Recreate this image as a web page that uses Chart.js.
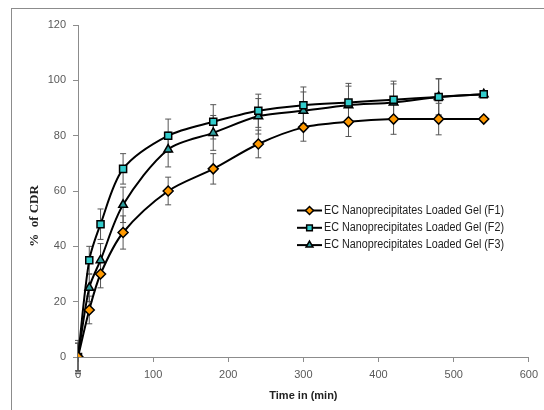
<!DOCTYPE html>
<html>
<head>
<meta charset="utf-8">
<script src="https://cdn.jsdelivr.net/npm/chart.js@4"></script>
<style>
  html, body { margin: 0; padding: 0; background: #fff; }
  #wrap { position: relative; width: 544px; height: 410px; }
  #frame { position: absolute; left: 11px; top: 8px; width: 560px; height: 440px; border: 1px solid #8c8c8c; box-sizing: border-box; pointer-events: none; }
</style>
</head>
<body>
<div id="wrap">
  <canvas id="drugChart" width="544" height="410"></canvas>
  <div id="frame"></div>
</div>
<script>
// time points (min)
const times = [0, 15, 30, 60, 120, 180, 240, 300, 360, 420, 480, 540];

// % cumulative drug release
const f1 = [0, 17, 30, 45, 60, 68, 77, 83, 85, 86, 86, 86];
const f2 = [0, 35, 48, 68, 80, 85, 89, 91, 92, 93, 94, 95];
const f3 = [0, 25, 35, 55, 75, 81, 87, 89, 91, 92, 94, 95];

// error bars (+/-)
const f1Err = [5, 5, 5, 6, 5, 5.5, 5, 5, 5.3, 5.5, 5.7, 0];
const f2Err = [5, 5, 5.5, 5.5, 6, 6.2, 6, 6.6, 6.9, 6.7, 6.6, 0];
const f3Err = [6, 5, 6, 6.4, 6.3, 6.3, 6.4, 6.8, 6.9, 6.7, 6.5, 0];

const labels = [
    'EC Nanoprecipitates Loaded Gel (F1)',
    'EC Nanoprecipitates Loaded Gel (F2)',
    'EC Nanoprecipitates Loaded Gel (F3)'
];
const yTitle = '%  of CDR';

function toPoints(vals) {
    return times.map((t, i) => ({ x: t, y: vals[i] }));
}

// error bars drawn under the lines
const errorBars = {
    id: 'errorBars',
    beforeDatasetsDraw(chart) {
        const ctx = chart.ctx;
        const xs = chart.scales.x, ys = chart.scales.y;
        ctx.save();
        ctx.strokeStyle = '#555';
        ctx.lineWidth = 1;
        chart.data.datasets.forEach(ds => {
            ds.errors.forEach((e, i) => {
                if (!e) return;
                const px = xs.getPixelForValue(ds.data[i].x);
                const top = ys.getPixelForValue(ds.data[i].y + e);
                const bot = ys.getPixelForValue(ds.data[i].y - e);
                ctx.beginPath();
                ctx.moveTo(px, top); ctx.lineTo(px, bot);
                ctx.moveTo(px - 3, top); ctx.lineTo(px + 3, top);
                ctx.moveTo(px - 3, bot); ctx.lineTo(px + 3, bot);
                ctx.stroke();
            });
        });
        ctx.restore();
    }
};

// legend inside the plot + rotated y title
const insideLegend = {
    id: 'insideLegend',
    afterDraw(chart) {
        const ctx = chart.ctx;
        ctx.save();
        ctx.font = '12px "Liberation Sans", Arial, sans-serif';
        ctx.textBaseline = 'middle';
        chart.data.datasets.forEach((ds, i) => {
            const y = 210.5 + i * 17.3;
            ctx.strokeStyle = '#000';
            ctx.lineWidth = 2;
            ctx.beginPath();
            ctx.moveTo(297, y); ctx.lineTo(322, y);
            ctx.stroke();
            ctx.fillStyle = ds.pointBackgroundColor;
            ctx.strokeStyle = '#000';
            ctx.lineWidth = 1.5;
            Chart.helpers.drawPoint(ctx, { pointStyle: ds.pointStyle, radius: 4, borderWidth: 1.5, rotation: 0 }, 309.5, y);
            ctx.fillStyle = '#222';
            ctx.fillText(ds.label, 324, y, 180);
        });

        ctx.translate(35, 216);
        ctx.rotate(-Math.PI / 2);
        ctx.textAlign = 'center';
        ctx.font = 'bold 13px "Liberation Serif", "Times New Roman", serif';
        ctx.fillStyle = '#222';
        ctx.fillText(yTitle, 0, 0);
        ctx.restore();
    }
};

const ctx = document.getElementById('drugChart');
new Chart(ctx, {
    type: 'line',
    data: {
        datasets: [{
            label: labels[0],
            data: toPoints(f1),
            errors: f1Err,
            borderColor: '#000',
            borderWidth: 2,
            pointStyle: 'rectRot',
            pointRadius: 5,
            pointBackgroundColor: '#FF9900',
            pointBorderColor: '#000',
            pointBorderWidth: 1.5,
            tension: 0.3
        }, {
            label: labels[1],
            data: toPoints(f2),
            errors: f2Err,
            borderColor: '#000',
            borderWidth: 2,
            pointStyle: 'rect',
            pointRadius: 5,
            pointBackgroundColor: '#33CCCC',
            pointBorderColor: '#000',
            pointBorderWidth: 1.5,
            tension: 0.3
        }, {
            label: labels[2],
            data: toPoints(f3),
            errors: f3Err,
            borderColor: '#000',
            borderWidth: 2,
            pointStyle: 'triangle',
            pointRadius: 5,
            pointBackgroundColor: '#2E9E9E',
            pointBorderColor: '#000',
            pointBorderWidth: 1.5,
            tension: 0.3
        }]
    },
    options: {
        responsive: false,
        animation: false,
        layout: { padding: { top: 25, right: 14, left: 0, bottom: 0 } },
        scales: {
            x: {
                type: 'linear',
                min: 0,
                max: 600,
                ticks: { stepSize: 100, color: '#595959', padding: 6, font: { size: 11, family: '"Liberation Sans", Arial' } },
                grid: { drawOnChartArea: false, tickLength: 5, color: '#8c8c8c' },
                border: { color: '#8c8c8c' },
                title: { display: true, text: 'Time in (min)', color: '#222', font: { size: 11, weight: 'bold', family: '"Liberation Sans", Arial' }, padding: { top: 0, bottom: 7 } },
                afterFit(scale) { scale.height = 53; }
            },
            y: {
                min: 0,
                max: 120,
                ticks: { stepSize: 20, color: '#595959', padding: 7, font: { size: 11, family: '"Liberation Sans", Arial' } },
                grid: { drawOnChartArea: false, tickLength: 5, color: '#8c8c8c' },
                border: { color: '#8c8c8c' },
                afterFit(scale) { scale.width = 78; }
            }
        },
        plugins: {
            legend: { display: false },
            tooltip: { enabled: false }
        }
    },
    plugins: [errorBars, insideLegend]
});
</script>
</body>
</html>
